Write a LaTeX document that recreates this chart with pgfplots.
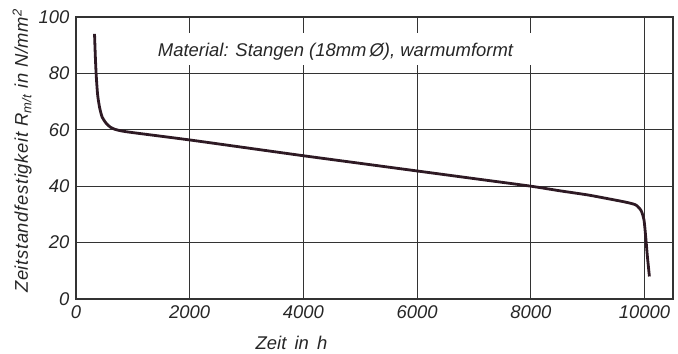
\documentclass[border=0pt]{standalone}
\usepackage{pgfplots}
\pgfplotsset{compat=1.18}
\usepackage{fontspec}
\setmainfont{Liberation Sans}
\definecolor{gridc}{HTML}{333333}
\definecolor{curvec}{HTML}{2E1A24}
\newcommand{\lblfont}{\itshape\fontsize{18.5}{18.5}\selectfont}
\begin{document}
\begin{tikzpicture}
\begin{axis}[
  scale only axis, width=597bp, height=282bp,
  xmin=0, xmax=10500, ymin=0, ymax=100,
  xtick={0,2000,...,10000}, ytick={0,20,...,100},
  ymajorgrids,
  grid style={line width=1.2bp, color=gridc},
  axis line style={line width=1.3bp, color=gridc},
  major tick length=0pt,
  scaled ticks=false,
  /pgf/number format/1000 sep={},
  /pgf/number format/assume math mode=true,
  ticklabel style={font=\lblfont, text=black!85},
  xticklabel style={yshift=-3bp},
  yticklabel style={xshift=-3bp},
  xlabel={Zeit\, in\, h},
  xlabel style={at={(axis description cs:0.361,-0.156)}, anchor=center, font=\lblfont, text=black!85},
  ylabel={\addfontfeature{LetterSpace=3.5}Zeitstandfestigkeit R\textsubscript{m/t} in N/mm\textsuperscript{2}},
  ylabel style={at={(axis description cs:-0.09,0.525)}, anchor=center, font=\lblfont, text=black!85},
  clip=false,
]
% vertical grid lines (interrupted in the text band)
\pgfplotsinvokeforeach{2000,4000,6000,8000}{
  \draw[line width=1.2bp, gridc] (axis cs:#1,0) -- (axis cs:#1,83);
  \draw[line width=1.2bp, gridc] (axis cs:#1,100) -- (axis cs:#1,94.5);
}
\draw[line width=1.2bp, gridc] (axis cs:10000,0) -- (axis cs:10000,100);
\addplot[line width=2.8bp, curvec, smooth, tension=0.4] coordinates {
(326,94) (340,86) (355,79.5) (380,72.5) (414,68) (460,64.5) (531,62.3)
(600,61) (680,60.2) (800,59.6) (1000,59.0) (2000,56.4) (3000,53.6)
(4000,50.8) (5000,48.1) (6000,45.4) (7000,42.7) (8000,40.0) (8500,38.4)
(9000,36.9) (9400,35.4) (9700,34.2) (9850,33.3) (9940,31.3) (9990,28)
(10020,22) (10050,15) (10085,8)
};
\node[anchor=west, font=\lblfont, text=black!85] at (axis cs:1380,87.6) {Material: Stangen (18mm\,Ø), warmumformt};
\end{axis}
\path (current axis.south west) ++(-76bp,-53bp) coordinate (bbA);
\path (current axis.north east) ++(5bp,17bp) coordinate (bbB);
\path (bbA) (bbB);
\end{tikzpicture}
\end{document}
